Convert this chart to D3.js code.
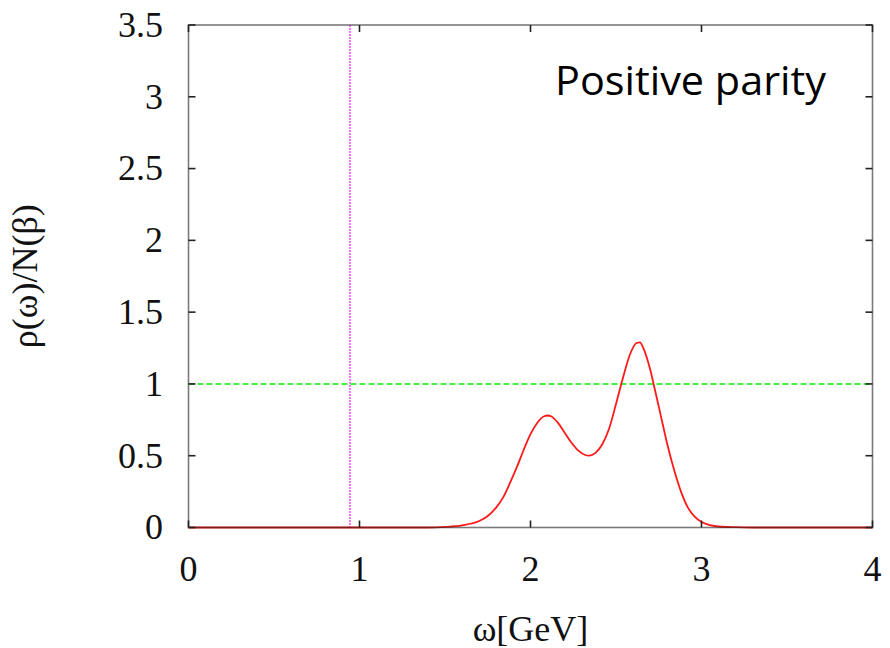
<!DOCTYPE html>
<html><head><meta charset="utf-8">
<script src="https://cdn.jsdelivr.net/npm/d3@7"></script>
<style>body{margin:0;background:#fff}</style>
</head><body>
<svg id="c" width="890" height="648"></svg>
<script>
// Data
const omega = [0, 0.5, 1.0, 1.4, 1.5, 1.6, 1.7, 1.75, 1.8, 1.84, 1.88, 1.92, 1.96, 2.0, 2.04, 2.08, 2.1, 2.12, 2.16, 2.2, 2.24, 2.28, 2.32, 2.34, 2.38, 2.42, 2.46, 2.5, 2.54, 2.58, 2.62, 2.64, 2.66, 2.7, 2.72, 2.76, 2.8, 2.84, 2.88, 2.92, 2.96, 3.0, 3.05, 3.1, 3.2, 3.3, 4.0];
const rho   = [0, 0, 0, 0, 0.004, 0.015, 0.045, 0.08, 0.14, 0.21, 0.31, 0.42, 0.54, 0.65, 0.73, 0.775, 0.78, 0.775, 0.73, 0.66, 0.59, 0.535, 0.505, 0.50, 0.52, 0.58, 0.69, 0.86, 1.04, 1.20, 1.285, 1.29, 1.25, 1.10, 1.0, 0.79, 0.58, 0.40, 0.25, 0.14, 0.075, 0.038, 0.017, 0.007, 0.002, 0, 0];
const nucleonMass = [0.944];
const refLevel = [1];
const xTicks = [0, 1, 2, 3, 4];
const yTicks = [0, 0.5, 1, 1.5, 2, 2.5, 3, 3.5];
const xLabel = "ω[GeV]";
const yLabel = "ρ(ω)/N(β)";
const note = "Positive parity";

const svg = d3.select("#c");
const L = 188.5, R = 872.5, T = 25, B = 527.5;
const x = d3.scaleLinear().domain([0, 4]).range([L, R]);
const y = d3.scaleLinear().domain([0, 3.5]).range([B, T]);
const serif = "'Liberation Serif','Times New Roman',serif";

// reference lines
svg.selectAll(".vline").data(nucleonMass).enter().append("line")
  .attr("x1", d => x(d)).attr("x2", d => x(d)).attr("y1", T).attr("y2", B)
  .attr("stroke", "#ff70ff").attr("stroke-width", 2).attr("stroke-dasharray", "2,1");
svg.selectAll(".hline").data(refLevel).enter().append("line")
  .attr("x1", L).attr("x2", R).attr("y1", d => y(d)).attr("y2", d => y(d))
  .attr("stroke", "#44ee44").attr("stroke-width", 2).attr("stroke-dasharray", "6,3");

// curve
const pts = omega.map((w, i) => [w, rho[i]]);
svg.append("path").datum(pts)
  .attr("d", d3.line().x(d => x(d[0])).y(d => y(d[1])).curve(d3.curveMonotoneX))
  .attr("fill", "none").attr("stroke", "#ff1a1a").attr("stroke-width", 1.8);

// frame
const frame = svg.append("g").attr("stroke", "#222").attr("stroke-width", 1.6).attr("fill", "none");
frame.append("rect").attr("x", L).attr("y", T).attr("width", R - L).attr("height", B - T).attr("stroke-opacity", 0.6);
const tl = 7;
xTicks.forEach(t => {
  frame.append("line").attr("x1", x(t)).attr("x2", x(t)).attr("y1", B).attr("y2", B - tl);
  frame.append("line").attr("x1", x(t)).attr("x2", x(t)).attr("y1", T).attr("y2", T + tl);
});
yTicks.forEach(t => {
  frame.append("line").attr("x1", L).attr("x2", L + tl).attr("y1", y(t)).attr("y2", y(t));
  frame.append("line").attr("x1", R).attr("x2", R - tl).attr("y1", y(t)).attr("y2", y(t));
});

// tick labels
svg.selectAll(".xt").data(xTicks).enter().append("text")
  .attr("x", d => x(d)).attr("y", 581).attr("text-anchor", "middle")
  .attr("font-family", serif).attr("font-size", 36).attr("fill", "#111").text(d => d);
svg.selectAll(".yt").data(yTicks).enter().append("text")
  .attr("x", 163).attr("y", d => y(d)).attr("dy", "0.33em").attr("text-anchor", "end")
  .attr("font-family", serif).attr("font-size", 36).attr("fill", "#111").text(d => d);

// axis titles
svg.append("text").attr("x", (L + R) / 2).attr("y", 641).attr("text-anchor", "middle")
  .attr("font-family", serif).attr("font-size", 36).attr("fill", "#111").text(xLabel);
svg.append("text").attr("transform", `translate(37,${(T + B) / 2}) rotate(-90)`).attr("text-anchor", "middle")
  .attr("font-family", serif).attr("font-size", 36).attr("fill", "#111").text(yLabel);

// annotation
svg.append("text").attr("x", 555).attr("y", 95)
  .attr("font-family", "'Open Sans','Noto Sans',sans-serif").attr("font-size", 40).attr("fill", "#000")
  .attr("textLength", 271).attr("lengthAdjust", "spacingAndGlyphs").text(note);
</script>
</body></html>
